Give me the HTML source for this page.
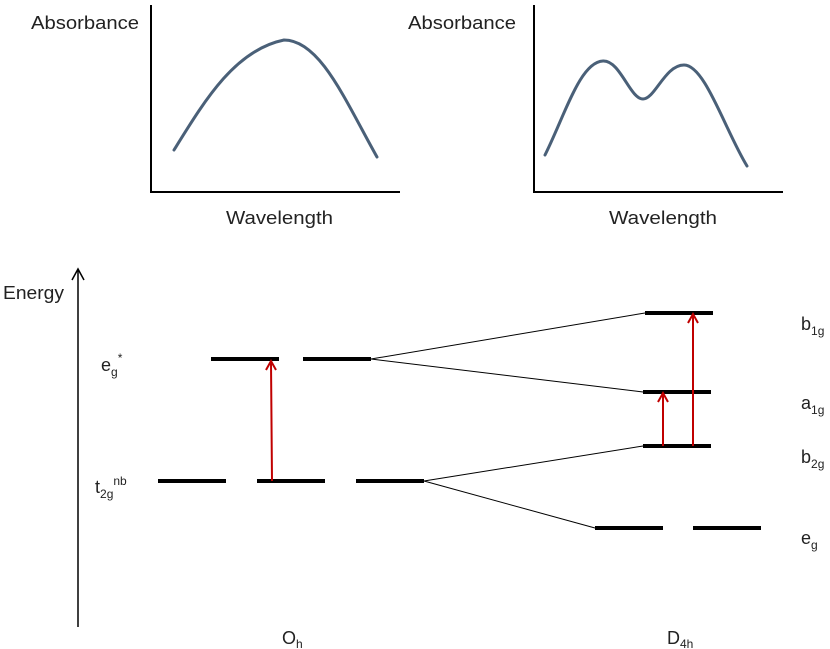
<!DOCTYPE html>
<html><head><meta charset="utf-8"><style>body{margin:0;background:#fff}svg{display:block}text{font-family:"Liberation Sans",sans-serif;fill:#222}</style></head>
<body>
<svg width="830" height="649" viewBox="0 0 830 649" xmlns="http://www.w3.org/2000/svg">
<g font-size="18">
<text x="31" y="29" textLength="108" lengthAdjust="spacingAndGlyphs">Absorbance</text>
<text x="408" y="29" textLength="108" lengthAdjust="spacingAndGlyphs">Absorbance</text>
<text x="226" y="224" textLength="107" lengthAdjust="spacingAndGlyphs">Wavelength</text>
<text x="609" y="224" textLength="108" lengthAdjust="spacingAndGlyphs">Wavelength</text>
<text x="3" y="299" textLength="61" lengthAdjust="spacingAndGlyphs">Energy</text>
</g>
<g fill="none" stroke="#000" stroke-width="2">
<path d="M151 5V192H400"/>
<path d="M534 5V192H783"/>
</g>
<g fill="none" stroke="#4a6078" stroke-width="3" stroke-linecap="round">
<path d="M174 150C205 100 235 50 284 40C320 40 345 100 377 157"/>
<path d="M545 155C565 115 580 62 603 61C620 60 630 99 643 99C655 99 665 65 684 65C705 65 725 130 747 166"/>
</g>
<g stroke="#000" stroke-width="1.5" fill="none">
<path d="M78 627V270"/>
<path d="M72 280L78 269L84 280"/>
</g>
<g stroke="#000" stroke-width="4">
<path d="M211 359H279M303 359H371"/>
<path d="M158 481H226M257 481H325M356 481H424"/>
<path d="M645 313H713M643 392H711M643 446H711"/>
<path d="M595 528H663M693 528H761"/>
</g>
<g stroke="#000" stroke-width="1">
<path d="M371 359L645 313M371 359L643 392M424 481L643 446M424 481L595 528"/>
</g>
<g stroke="#c00000" stroke-width="2" fill="none">
<path d="M272 481L271 362M266 370L271 361L276 370"/>
<path d="M663 446V394M658 402L663 393L668 402"/>
<path d="M693 446V315M688 323L693 314L698 323"/>
</g>
<g font-size="18">
<text x="101" y="371">e<tspan font-size="12" dy="5">g</tspan><tspan font-size="12" dy="-14">*</tspan></text>
<text x="95" y="493">t<tspan font-size="12" dy="5">2g</tspan><tspan font-size="12" dy="-13">nb</tspan></text>
<text x="801" y="330">b<tspan font-size="12" dy="5">1g</tspan></text>
<text x="801" y="409">a<tspan font-size="12" dy="5">1g</tspan></text>
<text x="801" y="463">b<tspan font-size="12" dy="5">2g</tspan></text>
<text x="801" y="544">e<tspan font-size="12" dy="5">g</tspan></text>
<text x="282" y="644">O<tspan font-size="12" dy="4">h</tspan></text>
<text x="667" y="644">D<tspan font-size="12" dy="4">4h</tspan></text>
</g>
</svg>
</body></html>
